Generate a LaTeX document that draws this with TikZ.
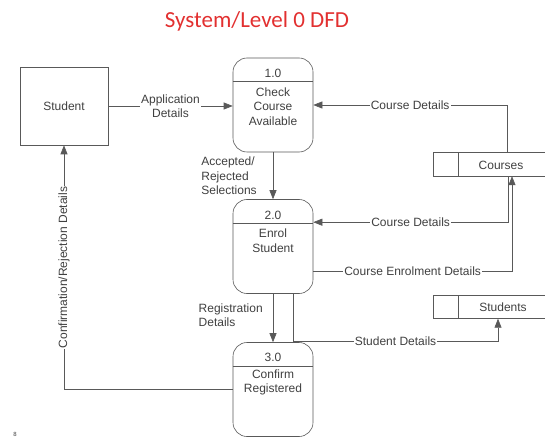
\documentclass[tikz,border=0pt]{standalone}
\usepackage{fontspec}
\setmainfont{Liberation Sans}
\newfontfamily\titlefont{Carlito}
\usetikzlibrary{arrows.meta}
\definecolor{titlered}{RGB}{226,48,48}

\begin{document}
\begin{tikzpicture}[x=1pt, y=-1pt,
  every node/.style={font=\fontsize{12}{14.5}\selectfont, text=black!75},
  line/.style={draw=black!65, line width=0.6pt},
  entity/.style={line, minimum width=88pt, minimum height=78pt},
  process/.style={line, rounded corners=14pt, minimum width=80pt, minimum height=94pt},
  store/.style={minimum width=112pt, minimum height=23pt},
  flow/.style={line, -{Triangle[length=9pt,width=7pt]}},
  lbl/.style={fill=white, inner sep=1pt, align=center},
  side/.style={align=left, inner sep=1pt}]

\useasboundingbox (0,0) rectangle (545,438);

% title
\node[font=\titlefont\fontsize{23}{26}\selectfont, text=titlered] (title) at (257,21) {System/Level 0 DFD};

% external entity
\node[entity] (stu) at (64,106) {Student};

% processes
\node[process] (p1) at (273,105) {};
\node[process] (p2) at (273,246.5) {};
\node[process] (p3) at (273,389.5) {};
\foreach \p in {p1,p2,p3}
  \draw[line] ([yshift=-24pt]\p.north west) -- ([yshift=-24pt]\p.north east);

\node (p1id) at (273,73) {1.0};
\node[align=center] (p1txt) at (273,106.5) {Check\\Course\\Available};
\node (p2id) at (273,215) {2.0};
\node[align=center] (p2txt) at (273,240.5) {Enrol\\Student};
\node (p3id) at (273,357) {3.0};
\node[align=center] (p3txt) at (273,382.5) {Confirm\\Registered};

% data stores (open to the right edge)
\node[store] (crs) at (489,164.5) {};
\draw[line] (crs.north east) -- (crs.north west) -- (crs.south west) -- (crs.south east);
\draw[line] ([xshift=25pt]crs.north west) -- ([xshift=25pt]crs.south west);
\node (crstxt) at (501,165) {Courses};

\node[store] (stds) at (489,307) {};
\draw[line] (stds.north east) -- (stds.north west) -- (stds.south west) -- (stds.south east);
\draw[line] ([xshift=25pt]stds.north west) -- ([xshift=25pt]stds.south west);
\node (stdstxt) at (503,307) {Students};

% flows into 1.0
\draw[flow] (stu.east) -- (stu.east -| p1.west) node[lbl, midway] {Application\\Details};
\draw[flow] ([xshift=18pt]crs.north) |- (p1.east) node[lbl, pos=0.75] {Course Details};

% 1.0 to 2.0
\draw[flow] (p1.south) -- (p2.north) node[side, midway, left, xshift=-15pt] {Accepted/\\Rejected\\Selections};

% courses to and from 2.0
\draw[flow] ([xshift=19pt]crs.south) |- ([yshift=-23pt]p2.north east) node[lbl, pos=0.75] {Course Details};
\draw[flow] ([yshift=-24.5pt]p2.east) -| ([xshift=23pt]crs.south) node[lbl, pos=0.25] {Course Enrolment Details};

% 2.0 to 3.0 and students
\draw[flow] (p2.south) -- (p3.north) node[side, midway, left, xshift=-9pt, yshift=3pt] {Registration\\Details};
\draw[flow] ([xshift=20pt]p2.south) -- ++(0,47) -| ([xshift=9pt]stds.south) node[lbl, pos=0.25] {Student Details};

% 3.0 back to student
\draw[flow] (p3.west) -| (stu.south) node[lbl, rotate=90, pos=0.75] {Confirmation/Rejection Details};

% slide number
\node[font=\fontsize{6}{7}\selectfont] (pg) at (15,434) {8};

\end{tikzpicture}
\end{document}
